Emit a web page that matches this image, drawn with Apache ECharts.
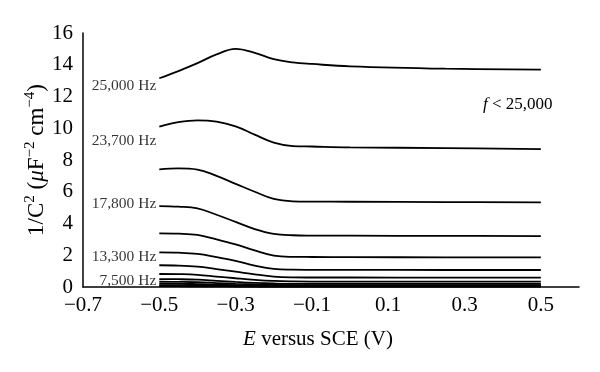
<!DOCTYPE html>
<html>
<head>
<meta charset="utf-8">
<script src="https://cdn.jsdelivr.net/npm/echarts@6/dist/echarts.min.js"></script>
<style>html,body{margin:0;padding:0;background:#fff}#c{width:600px;height:372px}</style>
</head>
<body>
<div id="c"></div>
<script>
var xs = [-0.5, -0.45, -0.4, -0.35, -0.3, -0.25, -0.2, -0.15, -0.1, 0, 0.25, 0.5];
var c1 = [13.15, 13.6, 14.1, 14.65, 15.0, 14.75, 14.35, 14.15, 14.05, 13.9, 13.75, 13.69];
var c2 = [10.1, 10.38, 10.5, 10.42, 10.12, 9.6, 9.1, 8.88, 8.85, 8.8, 8.75, 8.69];
var c3 = [7.41, 7.47, 7.4, 7.0, 6.5, 6.0, 5.55, 5.4, 5.38, 5.37, 5.35, 5.33];
var c4 = [5.1, 5.06, 4.95, 4.55, 4.1, 3.65, 3.35, 3.26, 3.24, 3.23, 3.22, 3.21];
var c5 = [3.38, 3.36, 3.28, 3.0, 2.68, 2.3, 1.98, 1.9, 1.89, 1.88, 1.87, 1.87];
var c6 = [2.18, 2.16, 2.08, 1.88, 1.65, 1.35, 1.14, 1.09, 1.08, 1.08, 1.07, 1.07];
var c7 = [1.37, 1.35, 1.28, 1.13, 0.97, 0.8, 0.66, 0.61, 0.6, 0.6, 0.59, 0.59];
var c8 = [0.82, 0.81, 0.77, 0.66, 0.55, 0.45, 0.38, 0.35, 0.34, 0.34, 0.34, 0.34];
var c9 = [0.5, 0.49, 0.46, 0.39, 0.32, 0.26, 0.22, 0.2, 0.2, 0.2, 0.2, 0.2];
var c10 = [0.33, 0.32, 0.3, 0.25, 0.2, 0.16, 0.13, 0.12, 0.12, 0.12, 0.12, 0.12];
var c11 = [0.2, 0.2, 0.18, 0.15, 0.12, 0.09, 0.08, 0.07, 0.07, 0.07, 0.07, 0.07];
var c12 = [0.1, 0.1, 0.09, 0.08, 0.06, 0.05, 0.04, 0.04, 0.04, 0.04, 0.04, 0.04];
var c13 = [0.05, 0.05, 0.045, 0.04, 0.03, 0.025, 0.02, 0.02, 0.02, 0.02, 0.02, 0.02];
var curves = [c1, c2, c3, c4, c5, c6, c7, c8, c9, c10, c11, c12, c13];

var freqLabels = ['25,000 Hz', '23,700 Hz', '17,800 Hz', '13,300 Hz', '7,500 Hz'];
var freqLabelY = [12.66, 9.2, 5.23, 1.89, 0.36];
var xTicks = [-0.7, -0.5, -0.3, -0.1, 0.1, 0.3, 0.5];
var yTicks = [0, 2, 4, 6, 8, 10, 12, 14, 16];

var FONT = 'Liberation Serif';
var series = curves.map(function (c) {
  return {
    type: 'line', smooth: 0.4, showSymbol: false, silent: true,
    lineStyle: { color: '#000', width: 1.8 },
    data: xs.map(function (x, i) { return [x, c[i]]; })
  };
});
series.push({
  type: 'scatter', symbolSize: 0, silent: true,
  data: freqLabels.map(function (t, i) { return [xs[0], freqLabelY[i], t]; }),
  label: {
    show: true, position: 'left', distance: 3, color: '#000',
    fontFamily: FONT, fontSize: 15.5,
    formatter: function (p) { return p.value[2]; }
  }
});

var chart = echarts.init(document.getElementById('c'), null, { renderer: 'canvas' });
chart.setOption({
  animation: false,
  backgroundColor: '#fff',
  grid: { left: 83, right: 21, top: 33, bottom: 85 },
  xAxis: {
    type: 'value', min: -0.7, max: 0.6,
    axisLine: { show: true, onZero: false, lineStyle: { color: '#000', width: 1.5 } },
    axisTick: { show: false },
    splitLine: { show: false },
    axisLabel: {
      customValues: xTicks, margin: 8, color: '#000', fontFamily: FONT, fontSize: 21,
      formatter: function (v) { return (Math.round(v * 10) / 10).toFixed(1).replace('-', '\u2212'); }
    },
    name: '{i|E} versus SCE (V)', nameLocation: 'middle', nameGap: 42,
    nameTextStyle: {
      color: '#000', fontFamily: FONT, fontSize: 21, padding: [0, 26, 0, 0],
      rich: { i: { fontStyle: 'italic', fontFamily: FONT, fontSize: 21, color: '#000' } }
    }
  },
  yAxis: {
    type: 'value', min: 0, max: 16, interval: 2,
    axisLine: { show: true, onZero: false, lineStyle: { color: '#000', width: 1.5 } },
    axisTick: { show: false },
    splitLine: { show: false },
    axisLabel: { customValues: yTicks, margin: 10, color: '#000', fontFamily: FONT, fontSize: 21 },
    name: '1/C{s|2} ({i|\u03bc}F{s|\u22122} cm{s|\u22124})', nameLocation: 'middle', nameGap: 32, nameRotate: 90,
    nameMoveOverlap: false,
    nameTextStyle: {
      color: '#000', fontFamily: FONT, fontSize: 23, lineHeight: 28,
      rich: {
        s: { fontSize: 15, verticalAlign: 'top', lineHeight: 28, fontFamily: FONT, color: '#000' },
        i: { fontStyle: 'italic', fontSize: 23, lineHeight: 28, fontFamily: FONT, color: '#000' }
      }
    }
  },
  graphic: [{
    type: 'text', left: 483, top: 96,
    style: {
      text: '{i|f} < 25,000', fill: '#000', font: '17px "Liberation Serif"',
      rich: { i: { fontStyle: 'italic', fontSize: 17, fontFamily: FONT, fill: '#000' } }
    }
  }],
  series: series
});
</script>
</body>
</html>
